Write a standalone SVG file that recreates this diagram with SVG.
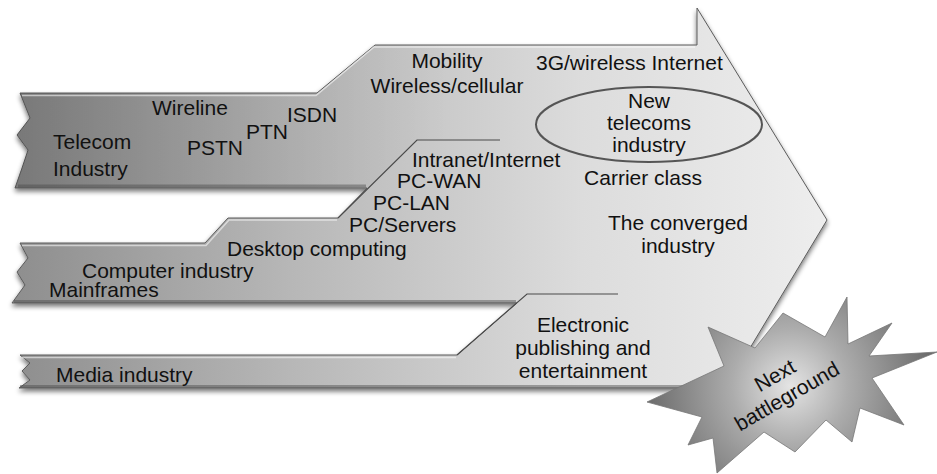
<svg xmlns="http://www.w3.org/2000/svg" width="937" height="474" viewBox="0 0 937 474">
  <defs>
    <linearGradient id="bandFill" gradientUnits="userSpaceOnUse" x1="0" y1="0" x2="830" y2="0">
      <stop offset="0" stop-color="#8c8c8c"/>
      <stop offset="0.35" stop-color="#b7b7b7"/>
      <stop offset="0.7" stop-color="#dcdcdc"/>
      <stop offset="1" stop-color="#eeeeee"/>
    </linearGradient>
    <linearGradient id="telecomShade" gradientUnits="userSpaceOnUse" x1="0" y1="0" x2="450" y2="0">
      <stop offset="0" stop-color="#000" stop-opacity="0.16"/>
      <stop offset="1" stop-color="#000" stop-opacity="0"/>
    </linearGradient>
    <radialGradient id="starFill" gradientUnits="userSpaceOnUse" cx="790" cy="386" r="145">
      <stop offset="0" stop-color="#e4e4e4"/>
      <stop offset="0.4" stop-color="#acacac"/>
      <stop offset="1" stop-color="#6a6a6a"/>
    </radialGradient>
    <filter id="dropShadow" x="-5%" y="-10%" width="110%" height="125%">
      <feGaussianBlur in="SourceAlpha" stdDeviation="2.5"/>
      <feOffset dx="0" dy="3" result="blur"/>
      <feComponentTransfer><feFuncA type="linear" slope="0.55"/></feComponentTransfer>
      <feMerge><feMergeNode/><feMergeNode in="SourceGraphic"/></feMerge>
    </filter>
    <style>
      text { font-family: "Liberation Sans", Arial, sans-serif; font-size: 21px; fill: #111; }
      .mid { text-anchor: middle; }
      .outline { fill: url(#bandFill); stroke: #5c5c5c; stroke-width: 1; stroke-linejoin: round; }
      .hi { fill: none; stroke: #fff; stroke-opacity: 0.55; stroke-width: 1.5; }
      .lo { fill: none; stroke: #4a4a4a; stroke-opacity: 0.45; stroke-width: 3; }
      .edge { fill: none; stroke: #4a4a4a; stroke-width: 1.2; }
    </style>
  </defs>

  <!-- the three industry bands merging into one arrow -->
  <g id="bands" filter="url(#dropShadow)">
    <path class="outline" d="M20,93 L317,93 L375,45 L697,45 L697,8 L827,220 L726,388 L19,388
      L30,380 L22,371 L30,363 L20,355 L457,355 L517,303 L12,303
      L25,285 L17,272 L28,258 L20,243 L205,243 L228,218 L338,218 L367,188 L15,188
      L22,168 L28,150 L17,135 L30,118 Z"/>
  </g>
  <path d="M20,93 L317,93 L375,45 L460,45 L460,140 L417,140 L367,188 L15,188 L22,168 L28,150 L17,135 L30,118 Z" fill="url(#telecomShade)"/>

  <!-- bevel highlights and lower shading -->
  <g id="bevel">
    <path class="hi" d="M22,95.5 L316,95.5 L374,47 L695,47"/>
    <path class="hi" d="M22,245.5 L206,245.5 L229,220 L337,220"/>
    <path class="hi" d="M22,357.5 L456,357.5"/>
    <path class="lo" d="M18,186 L366,186"/>
    <path class="lo" d="M14,301.5 L516,301.5"/>
    <path class="lo" d="M20,386.5 L724,386.5"/>
  </g>

  <!-- edges where the lower bands rise into the arrow -->
  <g id="connectors">
    <path class="edge" d="M338,218 L417,140 L500,140"/>
    <path class="edge" d="M457,355 L527,294 L618,294"/>
  </g>

  <g id="telecom">
    <text x="53" y="149">Telecom</text>
    <text x="53" y="176">Industry</text>
    <text x="152" y="115">Wireline</text>
    <text x="187" y="155">PSTN</text>
    <text x="246" y="139">PTN</text>
    <text x="287" y="122">ISDN</text>
    <text class="mid" x="447" y="68">Mobility</text>
    <text class="mid" x="447" y="93">Wireless/cellular</text>
    <text x="536" y="70">3G/wireless Internet</text>
  </g>

  <g id="computer">
    <text x="82" y="278">Computer industry</text>
    <text x="49" y="297">Mainframes</text>
    <text x="227" y="256">Desktop computing</text>
    <text x="349" y="232">PC/Servers</text>
    <text x="373" y="210">PC-LAN</text>
    <text x="397" y="188">PC-WAN</text>
    <text x="412" y="167">Intranet/Internet</text>
  </g>

  <g id="media">
    <text x="56" y="382">Media industry</text>
    <text class="mid" x="583" y="332">Electronic</text>
    <text class="mid" x="583" y="355">publishing and</text>
    <text class="mid" x="583" y="378">entertainment</text>
  </g>

  <g id="converged">
    <ellipse cx="649" cy="124.5" rx="113" ry="37.5" fill="none" stroke="#555" stroke-width="2"/>
    <text class="mid" x="649" y="108">New</text>
    <text class="mid" x="649" y="130">telecoms</text>
    <text class="mid" x="649" y="152">industry</text>
    <text class="mid" x="643" y="185">Carrier class</text>
    <text class="mid" x="678" y="230">The converged</text>
    <text class="mid" x="678" y="253">industry</text>
  </g>

  <g id="battleground">
    <path d="M647,402 L724,366 L708,327 L755,348 L783,313 L825,337 L847,297 L848,344 L892,323 L869,356
      L937,352 L872,378 L904,425 L860,408 L852,442 L826,420 L795,452 L764,432 L717,473 L713,438
      L688,445 L702,417 Z" fill="url(#starFill)" stroke="#777" stroke-width="0.8" stroke-linejoin="miter"/>
    <g transform="translate(781,386) rotate(-30)">
      <text class="mid" x="0" y="-5">Next</text>
      <text class="mid" x="0" y="19">battleground</text>
    </g>
  </g>
</svg>
